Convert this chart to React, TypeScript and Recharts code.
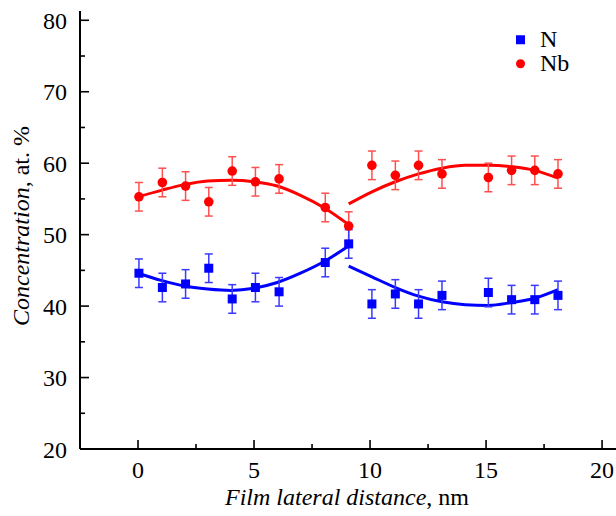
import React from 'react';
import { ComposedChart, XAxis, YAxis, Scatter, Line, ErrorBar, Legend, Label } from 'recharts';

// Measured points (x in nm)
const positions = [0.04, 1.05, 2.05, 3.05, 4.06, 5.06, 6.08, 8.07, 9.08, 10.08, 11.09, 12.09, 13.1, 15.1, 16.1, 17.1, 18.1];
const nValues = [44.6, 42.6, 43.1, 45.3, 41.0, 42.6, 42.0, 46.1, 48.7, 40.3, 41.7, 40.3, 41.5, 41.9, 40.9, 40.9, 41.5];
const nbValues = [55.3, 57.3, 56.8, 54.6, 58.9, 57.4, 57.8, 53.8, 51.2, 59.7, 58.3, 59.7, 58.5, 58.0, 59.0, 59.0, 58.5];
const nErrors = [2, 2, 2, 2, 2, 2, 2, 2, 2, 2, 2, 2, 2, 2, 2, 2, 2];
const nbErrors = [2, 2, 2, 2, 2, 2, 2, 2, 2, 2, 2, 2, 2, 2, 2, 2, 2];

// Fit curves
const fitLeftX = [0, 1, 2, 3, 4, 5, 6, 7, 8, 9.08];
const nbFitLeft = [55.3, 56.2, 57.0, 57.5, 57.6, 57.4, 56.8, 55.5, 53.8, 51.4];
const nFitLeft = [44.6, 43.6, 42.8, 42.4, 42.2, 42.5, 43.3, 44.6, 46.2, 48.4];
const fitRightX = [9.08, 10.08, 11.09, 12.09, 13.1, 14.1, 15.1, 16.1, 17.1, 18.1];
const nbFitRight = [54.3, 56.0, 57.4, 58.5, 59.3, 59.7, 59.7, 59.5, 59.0, 57.9];
const nFitRight = [45.6, 44.1, 42.6, 41.4, 40.6, 40.2, 40.1, 40.5, 41.1, 42.3];

const xTicks = [0, 2.5, 5, 7.5, 10, 12.5, 15, 17.5, 20];
const yTicks = [20, 25, 30, 35, 40, 45, 50, 55, 60, 65, 70, 75, 80];

const seriesNames = ['N', 'Nb'];

const nData = positions.map((x, i) => ({ x, y: nValues[i], err: nErrors[i] }));
const nbData = positions.map((x, i) => ({ x, y: nbValues[i], err: nbErrors[i] }));
const nbLeft = fitLeftX.map((x, i) => ({ x, y: nbFitLeft[i] }));
const nLeft = fitLeftX.map((x, i) => ({ x, y: nFitLeft[i] }));
const nbRight = fitRightX.map((x, i) => ({ x, y: nbFitRight[i] }));
const nRight = fitRightX.map((x, i) => ({ x, y: nFitRight[i] }));

const FONT = 'Liberation Serif, DejaVu Serif, serif';
const BLUE = '#0000ff';
const RED = '#ff0000';

const XTick = (props: any) => {
  const { x, y, payload } = props;
  const v = payload.value;
  const major = v % 5 === 0;
  return (
    <g>
      <line x1={x} x2={x} y1={y} y2={y - (major ? 9 : 5)} stroke="#000" strokeWidth={1.6} />
      {major && (
        <text x={x} y={y + 29} textAnchor="middle" style={{ fontFamily: FONT, fontSize: 24 }} fill="#000">
          {v}
        </text>
      )}
    </g>
  );
};

const YTick = (props: any) => {
  const { x, y, payload } = props;
  const v = payload.value;
  const major = v % 10 === 0;
  return (
    <g>
      <line x1={x} x2={x + (major ? 9 : 5)} y1={y} y2={y} stroke="#000" strokeWidth={1.6} />
      {major && (
        <text x={x - 13} y={y + 8.5} textAnchor="end" style={{ fontFamily: FONT, fontSize: 24 }} fill="#000">
          {v}
        </text>
      )}
    </g>
  );
};

const Square = (props: any) => {
  const { cx, cy } = props;
  if (cx == null || cy == null) return null;
  return <rect x={cx - 4.5} y={cy - 4.5} width={9} height={9} fill={BLUE} />;
};

const Dot = (props: any) => {
  const { cx, cy } = props;
  if (cx == null || cy == null) return null;
  return <circle cx={cx} cy={cy} r={4.8} fill={RED} />;
};

const LegendContent = () => (
  <div style={{ fontFamily: FONT, fontSize: 24, color: '#000' }}>
    <div style={{ display: 'flex', alignItems: 'center', height: 23.5 }}>
      <svg width={24} height={23.5} style={{ display: 'block' }}>
        <rect x={0} y={7.25} width={9} height={9} fill={BLUE} />
      </svg>
      <span style={{ lineHeight: '23.5px' }}>{seriesNames[0]}</span>
    </div>
    <div style={{ display: 'flex', alignItems: 'center', height: 23.5 }}>
      <svg width={24} height={23.5} style={{ display: 'block' }}>
        <circle cx={4.5} cy={11.75} r={4.5} fill={RED} />
      </svg>
      <span style={{ lineHeight: '23.5px' }}>{seriesNames[1]}</span>
    </div>
  </div>
);

export default function App() {
  return (
    <div style={{ position: 'absolute', left: 0, top: 0, width: 616, height: 516, background: '#fff', fontFamily: FONT }}>
      <ComposedChart width={616} height={516} margin={{ top: 11, right: 0, bottom: 0, left: 0 }} style={{ fontFamily: FONT }}>
        <XAxis
          type="number"
          dataKey="x"
          domain={[-2.5, 20.6]}
          ticks={xTicks}
          interval={0}
          allowDataOverflow
          height={67}
          tickSize={0}
          tickMargin={0}
          tickLine={false}
          axisLine={{ stroke: '#000', strokeWidth: 2 }}
          tick={<XTick />}
        >
          <Label
            content={() => (
              <text x={347} y={505} textAnchor="middle" style={{ fontFamily: FONT, fontSize: 24 }} fill="#000">
                <tspan fontStyle="italic">Film lateral distance</tspan>
                <tspan>, nm</tspan>
              </text>
            )}
          />
        </XAxis>
        <YAxis
          type="number"
          dataKey="y"
          domain={[20, 81.3]}
          ticks={yTicks}
          interval={0}
          allowDataOverflow
          width={80}
          tickSize={0}
          tickMargin={0}
          tickLine={false}
          axisLine={{ stroke: '#000', strokeWidth: 2 }}
          tick={<YTick />}
        >
          <Label
            content={() => (
              <text
                x={29}
                y={226}
                transform="rotate(-90 29 226)"
                textAnchor="middle"
                style={{ fontFamily: FONT, fontSize: 24 }}
                fill="#000"
              >
                <tspan fontStyle="italic">Concentration</tspan>
                <tspan>, at. %</tspan>
              </text>
            )}
          />
        </YAxis>
        <Line data={nbLeft} dataKey="y" type="monotone" stroke={RED} strokeWidth={3} dot={false} activeDot={false} isAnimationActive={false} legendType="none" />
        <Line data={nbRight} dataKey="y" type="monotone" stroke={RED} strokeWidth={3} dot={false} activeDot={false} isAnimationActive={false} legendType="none" />
        <Line data={nLeft} dataKey="y" type="monotone" stroke={BLUE} strokeWidth={3} dot={false} activeDot={false} isAnimationActive={false} legendType="none" />
        <Line data={nRight} dataKey="y" type="monotone" stroke={BLUE} strokeWidth={3} dot={false} activeDot={false} isAnimationActive={false} legendType="none" />
        <Scatter name={seriesNames[1]} data={nbData} dataKey="y" shape={<Dot />} isAnimationActive={false}>
          <ErrorBar dataKey="err" direction="y" width={4} stroke="#ff5050" strokeWidth={1.5} isAnimationActive={false} />
        </Scatter>
        <Scatter name={seriesNames[0]} data={nData} dataKey="y" shape={<Square />} isAnimationActive={false}>
          <ErrorBar dataKey="err" direction="y" width={4} stroke="#3a3aff" strokeWidth={1.5} isAnimationActive={false} />
        </Scatter>
        <Legend
          layout="vertical"
          align="center"
          verticalAlign="middle"
          wrapperStyle={{ top: 28, left: 516, width: 90 }}
          content={<LegendContent />}
        />
      </ComposedChart>
    </div>
  );
}
